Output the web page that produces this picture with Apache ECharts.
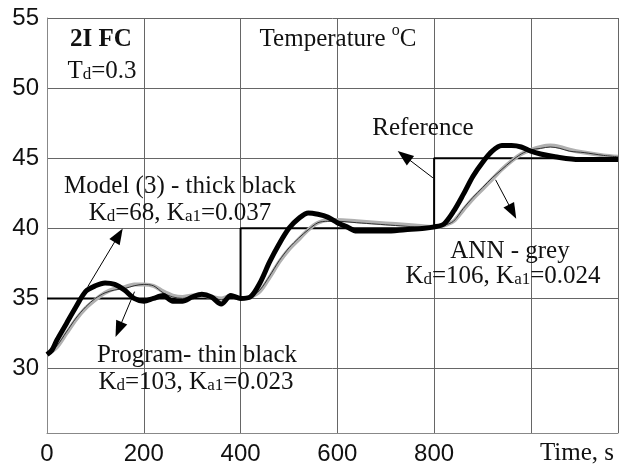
<!DOCTYPE html>
<html><head><meta charset="utf-8">
<script src="https://cdn.jsdelivr.net/npm/echarts@6/dist/echarts.min.js"></script>
<style>html,body{margin:0;padding:0;background:#fff}#c{width:621px;height:466px}</style>
</head><body><div id="c"></div>
<script>
// Reference (setpoint) step
const refX = [0, 400, 400, 800, 800, 1180];
const refY = [35, 35, 40, 40, 45, 45];
// Model (3) - thick black
const modelX = [0,10,20,40,60,80,100,120,140,160,180,200,220,240,260,280,300,320,340,360,380,400,420,440,460,480,500,520,540,560,580,600,620,640,660,700,740,780,800,820,840,860,880,900,920,940,960,980,1000,1020,1050,1100,1150,1180];
const modelY = [31.0,31.3,32.0,33.2,34.4,35.5,35.9,36.1,36.0,35.6,35.0,34.8,35.0,35.2,34.8,34.8,35.1,35.3,35.1,34.6,35.2,35.0,35.1,36.1,37.6,38.9,40.0,40.7,41.1,41.0,40.8,40.4,40.1,39.8,39.8,39.8,39.9,40.0,40.1,40.3,41.2,42.4,43.7,44.7,45.5,45.9,45.9,45.8,45.5,45.3,45.1,44.9,44.9,44.9];
// Program - thin black
const progX = [0,20,40,60,80,100,120,140,160,180,200,220,240,260,280,300,320,340,360,380,400,420,440,460,480,500,520,540,560,580,600,640,680,720,760,800,820,840,860,880,900,920,940,960,980,1000,1020,1040,1060,1080,1110,1150,1180];
const progY = [31.0,31.6,32.6,33.6,34.4,35.0,35.4,35.6,35.7,35.9,36.0,35.9,35.4,35.1,35.0,35.1,35.2,35.1,34.9,35.2,35.0,35.1,35.6,36.6,37.7,38.6,39.3,39.9,40.4,40.5,40.5,40.4,40.3,40.2,40.1,40.0,40.2,40.5,41.4,42.2,42.9,43.6,44.2,44.8,45.3,45.6,45.7,45.8,45.7,45.5,45.4,45.2,45.1];
// ANN - grey
const annX = progX;
const annY = [31.0,31.5,32.5,33.5,34.3,34.9,35.4,35.7,35.8,36.0,36.0,35.9,35.5,35.2,35.1,35.2,35.2,35.1,35.0,35.2,35.0,35.1,35.5,36.5,37.6,38.5,39.2,39.9,40.4,40.6,40.6,40.5,40.4,40.3,40.2,40.1,40.2,40.5,41.3,42.1,42.8,43.5,44.2,44.8,45.3,45.6,45.8,45.9,45.8,45.6,45.4,45.2,45.1];
// axis ticks
const xTicks = [0,200,400,600,800];
const yTicks = [30,35,40,45,50,55];

const pairs = (xs, ys) => xs.map((x,i)=>[x, ys[i]]);
const serif = '"Liberation Serif","Times New Roman",serif';
const sans = '"Liberation Sans",Arial,sans-serif';

const chart = echarts.init(document.getElementById('c'));
const richBase = {
  n: {fontSize: 25, fontFamily: serif, color: '#111'},
  s: {fontSize: 17, fontFamily: serif, color: '#111', verticalAlign: 'bottom', lineHeight: 14},
  u: {fontSize: 16, fontFamily: serif, color: '#111', verticalAlign: 'top', lineHeight: 32},
  b: {fontSize: 25, fontFamily: serif, color: '#111', fontWeight: 'bold'}
};
function txt(x, y, text) {
  return {type: 'text', x: x, y: y, silent: true, z: 100,
    style: {text: text, rich: richBase, align: 'center', verticalAlign: 'middle', fontSize: 25, fontFamily: serif, fill: '#111'}};
}
const arrowStyle = {color: '#000', width: 1, type: 'solid'};

chart.setOption({
  animation: false,
  grid: {left: 47, right: 0, top: 18, bottom: 33},
  xAxis: {type: 'value', min: 0, max: 1180, interval: 200,
    axisLine: {show: true, lineStyle: {color: '#888', width: 1}},
    axisTick: {show: false},
    splitLine: {show: true, lineStyle: {color: '#666', width: 1}},
    axisLabel: {margin: 9, fontSize: 24, fontFamily: sans, color: '#111',
      formatter: v => xTicks.includes(v) ? String(v) : ''}
  },
  yAxis: {type: 'value', min: 25.4, max: 55,
    axisLine: {show: true, lineStyle: {color: '#888', width: 1}},
    axisTick: {show: false},
    splitLine: {show: true, lineStyle: {color: '#666', width: 1}},
    axisLabel: {margin: 8, fontSize: 24, fontFamily: sans, color: '#111',
      formatter: v => yTicks.includes(Math.round(v*1000)/1000) ? String(v) : ''}
  },
  series: [
    {type: 'line', name: 'Reference', data: pairs(refX, refY), showSymbol: false, z: 2,
      lineStyle: {color: '#000', width: 2},
      markLine: {silent: true, symbol: ['none', 'triangle'], symbolSize: [12, 16],
        label: {show: false}, lineStyle: arrowStyle,
        data: [
          [{coord: [84.3, 35.84]}, {coord: [148, 39.5]}],
          [{coord: [180.9, 35.48]}, {coord: [148, 32.78]}],
          [{coord: [797.5, 43.6]}, {coord: [737.9, 45.17]}],
          [{coord: [927, 43.46]}, {coord: [962, 41.18]}]
        ]}
    },
    {type: 'line', name: 'ANN', data: pairs(annX, annY), showSymbol: false, smooth: 0.3, z: 3,
      lineStyle: {color: '#b0b0b0', width: 4}},
    {type: 'line', name: 'Program', data: pairs(progX, progY), showSymbol: false, smooth: 0.3, z: 4,
      lineStyle: {color: '#333', width: 1}},
    {type: 'line', name: 'Model', data: pairs(modelX, modelY), showSymbol: false, smooth: 0.3, z: 5,
      lineStyle: {color: '#000', width: 5}}
  ],
  graphic: [
    txt(101, 40, '{b|2I FC}'),
    txt(102, 71, '{n|T}{s|d}{n|=0.3}'),
    txt(338, 39, '{n|Temperature }{u|o}{n|C}'),
    txt(180, 186, '{n|Model (3) - thick black}'),
    txt(180, 213, '{n|K}{s|d}{n|=68, K}{s|a1}{n|=0.037}'),
    txt(423, 128, '{n|Reference}'),
    txt(510, 251, '{n|ANN - grey}'),
    txt(503, 276, '{n|K}{s|d}{n|=106, K}{s|a1}{n|=0.024}'),
    txt(197, 355, '{n|Program- thin black}'),
    txt(196, 382, '{n|K}{s|d}{n|=103, K}{s|a1}{n|=0.023}'),
    txt(577, 453, '{n|Time, s}')
  ]
});
</script></body></html>
